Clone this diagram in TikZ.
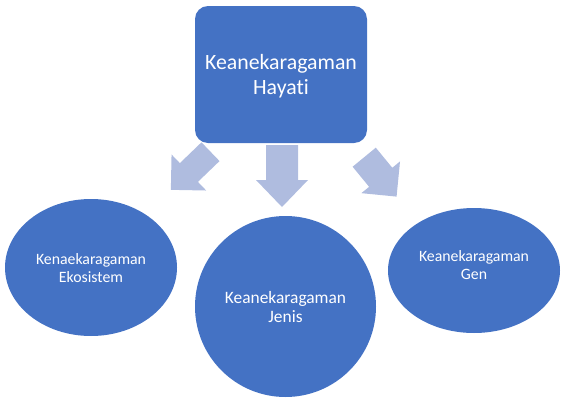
\documentclass[tikz,border=0pt]{standalone}
\usepackage{fontspec}
\setmainfont[RawFeature=-liga]{Carlito}
\usetikzlibrary{shapes.geometric}
\definecolor{boxblue}{HTML}{4472C4}
\definecolor{arrowblue}{HTML}{AFBCDF}
\newcommand{\blockarrowshape}[4]{% length, shaft half width, head half width, head length
  \fill[arrowblue] (0,-#2) -- ({#1-#4},-#2) -- ({#1-#4},-#3) -- (#1,0) -- ({#1-#4},#3) -- ({#1-#4},#2) -- (0,#2) -- cycle;}
\tikzset{
  topbox/.style={fill=boxblue, draw=none, rounded corners=13pt, minimum width=172pt, minimum height=137pt, inner sep=0pt},
  blob/.style={ellipse, fill=boxblue, draw=none, inner sep=0pt},
  bigtext/.style={text=white, align=center, font=\fontsize{21.8pt}{25pt}\selectfont},
  smalltext/.style={text=white, align=center, font=\fontsize{15.8pt}{18.5pt}\selectfont},
  midtext/.style={text=white, align=center, font=\fontsize{17.4pt}{19.5pt}\selectfont},
}
\begin{document}
\begin{tikzpicture}[x=1pt,y=-1pt]
\useasboundingbox (0,0) rectangle (579,402);
% block arrows
\begin{scope}[shift={(210.5,151.7)}, rotate=-136.1]
  \blockarrowshape{55}{13}{25}{25}
\end{scope}
\begin{scope}[shift={(282,145)}, rotate=-90]
  \blockarrowshape{62}{16}{26}{27}
\end{scope}
\begin{scope}[shift={(364.2,157.2)}, rotate=-50.6]
  \blockarrowshape{51}{15}{25}{25}
\end{scope}
% top box
\node[topbox] (top) at (281,74.5) {};
\node[bigtext] (toptext) at (281,76) {Keanekaragaman\\Hayati};
% ellipses
\node[blob, minimum width=172pt, minimum height=137pt] (eko) at (91,267.5) {};
\node[smalltext] (ekotext) at (91,268) {Kenaekaragaman\\Ekosistem};
\node[blob, minimum width=181pt, minimum height=181pt] (jenis) at (285.5,306.5) {};
\node[midtext] (jenistext) at (285.5,307) {Keanekaragaman\\Jenis};
\node[blob, minimum width=172pt, minimum height=125pt] (gen) at (474,270.5) {};
\node[smalltext] (gentext) at (474,265) {Keanekaragaman\\Gen};
\end{tikzpicture}
\end{document}
